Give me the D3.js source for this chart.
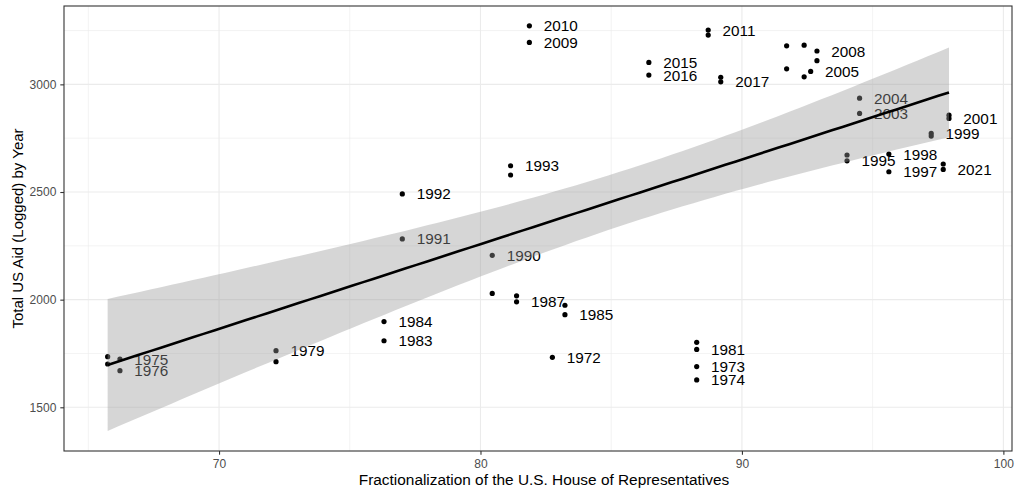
<!DOCTYPE html>
<html>
<head>
<meta charset="utf-8">
<script src="https://cdn.jsdelivr.net/npm/d3@7"></script>
<style>
  html, body { margin: 0; padding: 0; background: #ffffff; }
  svg { display: block; font-family: "Liberation Sans", Arial, Helvetica, sans-serif; }
</style>
</head>
<body>
<svg id="chart" width="1016" height="491"></svg>
<script>
// Fractionalization of the House (x) against total US aid (y), one point per year
const fractionalization = [
  65.74, 65.74, 66.21, 66.21, 72.18, 72.18, 76.31, 76.31, 77.01, 77.01,
  80.45, 80.45, 81.15, 81.15, 81.38, 81.38, 81.87, 81.87, 82.75, 83.23,
  83.23, 86.44, 86.44, 88.27, 88.27, 88.27, 88.27, 88.71, 88.71, 89.19,
  89.19, 91.71, 92.38, 92.87, 92.87, 91.71, 92.38, 92.63, 94.50, 94.50,
  94.02, 94.02, 95.62, 95.62, 97.24, 97.24, 97.92, 97.92, 97.70, 97.70
];
const totalAid = [
  1735, 1701, 1724, 1670, 1763, 1712, 1898, 1809, 2491, 2282,
  2206, 2029, 2622, 2579, 2018, 1990, 3272, 3195, 1732, 1974,
  1930, 3102, 3043, 1802, 1769, 1689, 1627, 3252, 3229, 3033,
  3012, 3179, 3182, 3155, 3110, 3072, 3035, 3060, 2936, 2865,
  2672, 2645, 2676, 2594, 2772, 2760, 2857, 2842, 2630, 2605
];
// Year labels; blank where the label was dropped because it would overlap
const yearLabels = [
  "", "", "1975", "1976", "1979", "", "1984", "1983", "1992", "1991",
  "1990", "", "1993", "", "", "1987", "2010", "2009", "1972", "",
  "1985", "2015", "2016", "", "1981", "1973", "1974", "2011", "", "",
  "2017", "", "", "2008", "", "", "", "2005", "2004", "2003",
  "", "1995", "1998", "1997", "1999", "", "", "2001", "", "2021"
];

const xTicks = [70, 80, 90, 100];
const xMinor = [65, 75, 85, 95];
const yTicks = [1500, 2000, 2500, 3000];
const yMinor = [1750, 2250, 2750, 3250];

const xTitle = "Fractionalization of the U.S. House of Representatives";
const yTitle = "Total US Aid (Logged) by Year";

const svg = d3.select("#chart");
const W = 1016, H = 491;
const margin = { left: 64, right: 4, top: 6, bottom: 40 };
const pw = W - margin.left - margin.right;
const ph = H - margin.top - margin.bottom;

const x = d3.scaleLinear().domain([64.07, 100.33]).range([margin.left, margin.left + pw]);
const y = d3.scaleLinear().domain([1297, 3364]).range([margin.top + ph, margin.top]);

const data = fractionalization.map((v, i) => ({ x: v, y: totalAid[i], label: yearLabels[i] }));

// Panel background
svg.append("rect")
  .attr("x", margin.left).attr("y", margin.top)
  .attr("width", pw).attr("height", ph)
  .attr("fill", "#ffffff");

const grid = svg.append("g");
// minor grid
grid.selectAll("line.vmin").data(xMinor).join("line")
  .attr("x1", d => x(d)).attr("x2", d => x(d))
  .attr("y1", margin.top).attr("y2", margin.top + ph)
  .attr("stroke", "#ebebeb").attr("stroke-width", 0.6);
grid.selectAll("line.hmin").data(yMinor).join("line")
  .attr("y1", d => y(d)).attr("y2", d => y(d))
  .attr("x1", margin.left).attr("x2", margin.left + pw)
  .attr("stroke", "#ebebeb").attr("stroke-width", 0.6);
// major grid
grid.selectAll("line.vmaj").data(xTicks).join("line")
  .attr("x1", d => x(d)).attr("x2", d => x(d))
  .attr("y1", margin.top).attr("y2", margin.top + ph)
  .attr("stroke", "#ebebeb").attr("stroke-width", 1.1);
grid.selectAll("line.hmaj").data(yTicks).join("line")
  .attr("y1", d => y(d)).attr("y2", d => y(d))
  .attr("x1", margin.left).attr("x2", margin.left + pw)
  .attr("stroke", "#ebebeb").attr("stroke-width", 1.1);

// Points
svg.append("g").selectAll("circle").data(data).join("circle")
  .attr("cx", d => x(d.x)).attr("cy", d => y(d.y))
  .attr("r", 2.6).attr("fill", "#000000");

// Year labels, nudged to the right of each point
const nudge = 0.55;
svg.append("g").selectAll("text").data(data.filter(d => d.label)).join("text")
  .attr("x", d => x(d.x + nudge)).attr("y", d => y(d.y))
  .attr("dy", "0.36em")
  .attr("font-size", "15.3px").attr("fill", "#000000")
  .text(d => d.label);

// Linear fit with 95% confidence band
const n = data.length;
const mx = d3.mean(data, d => d.x), my = d3.mean(data, d => d.y);
const sxx = d3.sum(data, d => (d.x - mx) ** 2);
const sxy = d3.sum(data, d => (d.x - mx) * (d.y - my));
const slope = sxy / sxx, intercept = my - slope * mx;
const rss = d3.sum(data, d => (d.y - (intercept + slope * d.x)) ** 2);
const s = Math.sqrt(rss / (n - 2));
const tq = 2.011;
const [xlo, xhi] = d3.extent(data, d => d.x);
const fit = d3.range(80).map(i => {
  const xv = xlo + (xhi - xlo) * i / 79;
  const yv = intercept + slope * xv;
  const se = s * Math.sqrt(1 / n + (xv - mx) ** 2 / sxx);
  return { x: xv, y: yv, lo: yv - tq * se, hi: yv + tq * se };
});

svg.append("path").datum(fit)
  .attr("d", d3.area().x(d => x(d.x)).y0(d => y(d.lo)).y1(d => y(d.hi)))
  .attr("fill", "#999999").attr("fill-opacity", 0.4);
svg.append("path").datum(fit)
  .attr("d", d3.line().x(d => x(d.x)).y(d => y(d.y)))
  .attr("fill", "none").attr("stroke", "#000000").attr("stroke-width", 2.6);

// Panel border
svg.append("rect")
  .attr("x", margin.left).attr("y", margin.top)
  .attr("width", pw).attr("height", ph)
  .attr("fill", "none").attr("stroke", "#333333").attr("stroke-width", 1.1);

// Axes
const xAxis = svg.append("g").attr("transform", `translate(0,${margin.top + ph})`)
  .call(d3.axisBottom(x).tickValues(xTicks).tickFormat(d3.format("d"))
    .tickSize(3.7).tickPadding(5).tickSizeOuter(0));
const yAxis = svg.append("g").attr("transform", `translate(${margin.left},0)`)
  .call(d3.axisLeft(y).tickValues(yTicks).tickFormat(d3.format("d"))
    .tickSize(3.7).tickPadding(4).tickSizeOuter(0));
[xAxis, yAxis].forEach(g => {
  g.select(".domain").remove();
  g.selectAll(".tick line").attr("stroke", "#333333").attr("stroke-width", 1.1);
  g.selectAll(".tick text").attr("fill", "#4d4d4d").attr("font-size", "12px")
    .attr("font-family", "Liberation Sans, Arial, sans-serif");
});

// Axis titles
svg.append("text")
  .attr("x", 544).attr("y", 485)
  .attr("text-anchor", "middle").attr("font-size", "15.4px").attr("fill", "#000000")
  .text(xTitle);
svg.append("text")
  .attr("transform", `translate(23,${margin.top + ph / 2}) rotate(-90)`)
  .attr("text-anchor", "middle").attr("font-size", "15px").attr("fill", "#000000")
  .text(yTitle);
</script>
</body>
</html>
